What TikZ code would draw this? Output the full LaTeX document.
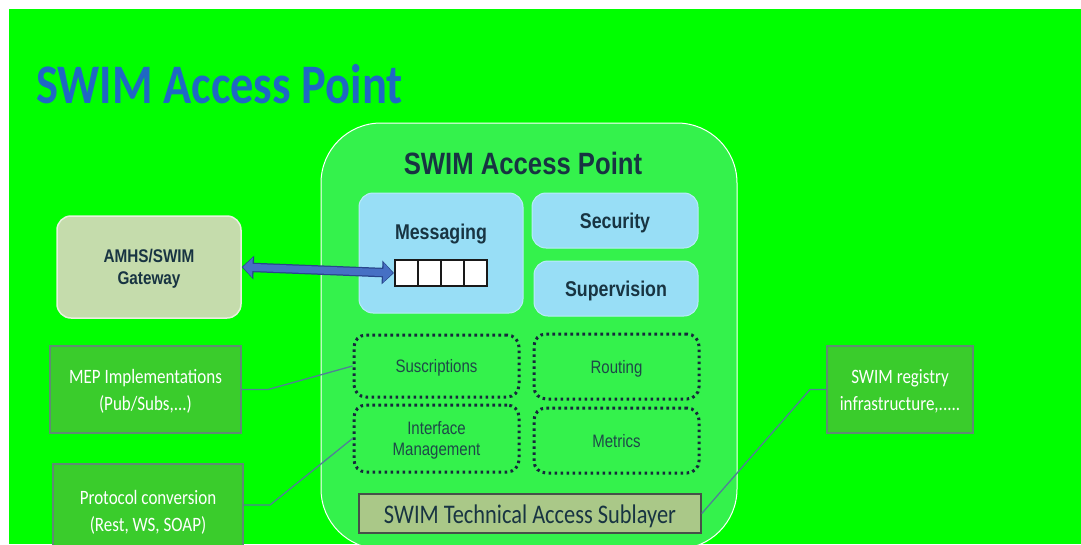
\documentclass[tikz,border=0pt]{standalone}
\usepackage{fontspec}
\usepackage{graphicx}
\setmainfont{Liberation Sans}
\newfontfamily\calfont{Carlito}
\usetikzlibrary{arrows.meta}
\definecolor{bggreen}{RGB}{0,255,0}
\definecolor{sapfill}{RGB}{52,242,76}
\definecolor{titleblue}{RGB}{31,104,196}
\definecolor{darknavy}{RGB}{24,52,66}
\definecolor{dottext}{RGB}{30,72,72}
\definecolor{lblue}{RGB}{152,222,246}
\definecolor{lbborder}{RGB}{185,236,250}
\definecolor{gwfill}{RGB}{197,220,172}
\definecolor{gfill}{RGB}{58,204,44}
\definecolor{gborder}{RGB}{95,140,115}
\definecolor{subfill}{RGB}{170,200,136}
\definecolor{subborder}{RGB}{70,82,72}
\definecolor{conncol}{RGB}{80,128,150}
\definecolor{arrowblue}{RGB}{70,112,196}
\definecolor{arrowedge}{RGB}{40,70,140}
\definecolor{dotcol}{RGB}{22,40,60}
\newcommand\vs[1]{\raisebox{-0.15em}[\height][\depth]{\scalebox{1}[1.2]{\begin{tabular}{@{}c@{}}#1\end{tabular}}}}
\tikzset{
  lbbox/.style={draw=lbborder, fill=lblue, rounded corners=14, line width=1, inner sep=0},
  dotbox/.style={draw=dotcol, line width=3, dash pattern=on 2.6pt off 3.4pt, rounded corners=12, inner sep=0, text=dottext, font=\fontsize{15}{18}\selectfont},
  gbox/.style={draw=gborder, fill=gfill, line width=1.2, text=white, inner sep=0, font=\calfont\fontsize{17}{22.5}\selectfont},
  conn/.style={draw=conncol, line width=1.3},
  qcell/.style={draw=black!90, fill=white, line width=2, minimum width=23, minimum height=26, inner sep=0},
  boldlabel/.style={font=\bfseries\fontsize{17.8}{21}\selectfont, text=darknavy, inner sep=0},
}
\begin{document}
\begin{tikzpicture}[x=1pt,y=-1pt]
\useasboundingbox (0,0) rectangle (1081,544);
\clip (0,0) rectangle (1081,544);
\fill[white] (0,0) rectangle (1081,544);
\fill[bggreen] (9,9) rectangle (1081,544);

\node[font=\calfont\bfseries\fontsize{46.5}{50}\selectfont, text=titleblue, anchor=west, inner sep=0] (title) at (36,85) {\vs{SWIM Access Point}};

\node[draw=white, line width=1, fill=sapfill, rounded corners=60, minimum width=416, minimum height=426, inner sep=0] (sap) at (529,336) {};
\node[font=\bfseries\fontsize{25.7}{30}\selectfont, text=darknavy, inner sep=0] (saptitle) at (523,163) {\vs{SWIM Access Point}};

\node[lbbox, minimum width=164, minimum height=120] (msg) at (441,253) {};
\node[boldlabel] (msgl) at (441,232) {\vs{Messaging}};
\node[qcell] (q1) at (406.5,273) {};
\node[qcell] (q2) at (429.5,273) {};
\node[qcell] (q3) at (452.5,273) {};
\node[qcell] (q4) at (475.5,273) {};

\node[lbbox, boldlabel, minimum width=166, minimum height=55] (sec) at (615,220.5) {\vs{Security}};
\node[lbbox, boldlabel, minimum width=164, minimum height=55] (sup) at (616,288.5) {\vs{Supervision}};

\node[dotbox, minimum width=165, minimum height=62] (sus) at (436.5,366) {\vs{Suscriptions}};
\node[dotbox, minimum width=165, minimum height=65] (rout) at (616.5,366.5) {\vs{Routing}};
\node[dotbox, minimum width=165, minimum height=67] (im) at (436.5,438.5) {\vs{Interface\\Management}};
\node[dotbox, minimum width=165, minimum height=65] (met) at (616.5,440.5) {\vs{Metrics}};

\node[draw=subborder, fill=subfill, line width=1.5, minimum width=342, minimum height=39, inner sep=0, font=\calfont\fontsize{22.4}{26}\selectfont, text=darknavy] (sub) at (530,513.5) {\vs{SWIM Technical Access Sublayer}};

\node[draw=white!60!gwfill, fill=gwfill, line width=1.5, rounded corners=14, minimum width=184, minimum height=102, inner sep=0, font=\bfseries\fontsize{15.3}{18}\selectfont, text=darknavy] (gw) at (149,267) {\vs{AMHS/SWIM\\Gateway}};

\draw[arrowedge, line width=9.5, {Triangle[width=23pt,length=12pt]}-{Triangle[width=23pt,length=12pt]}] (gw.east) -- (q1.west);
\draw[arrowblue, line width=7, shorten <=1.2pt, shorten >=1.2pt, {Triangle[width=19pt,length=9.5pt]}-{Triangle[width=19pt,length=9.5pt]}] (gw.east) -- (q1.west);

\node[gbox, minimum width=191, minimum height=87] (mep) at (145.5,389.5) {\vs{MEP Implementations\\(Pub/Subs,...)}};
\node[gbox, minimum width=190, minimum height=92] (proto) at (148,510) {\vs{Protocol conversion\\(Rest, WS, SOAP)}};
\node[gbox, minimum width=146, minimum height=87] (reg) at (900,389.5) {\vs{SWIM registry\\infrastructure,.....}};

\coordinate (b1) at (268,389.5);
\coordinate (b2) at (270,505);
\coordinate (b3) at (810,389.5);
\draw[conn] (mep.east) -- (b1) -- (sus.west);
\draw[conn] (b2 -| proto.east) -- (b2) -- (im.west);
\draw[conn] (reg.west) -- (b3) -- (sub.east);
\end{tikzpicture}
\end{document}
